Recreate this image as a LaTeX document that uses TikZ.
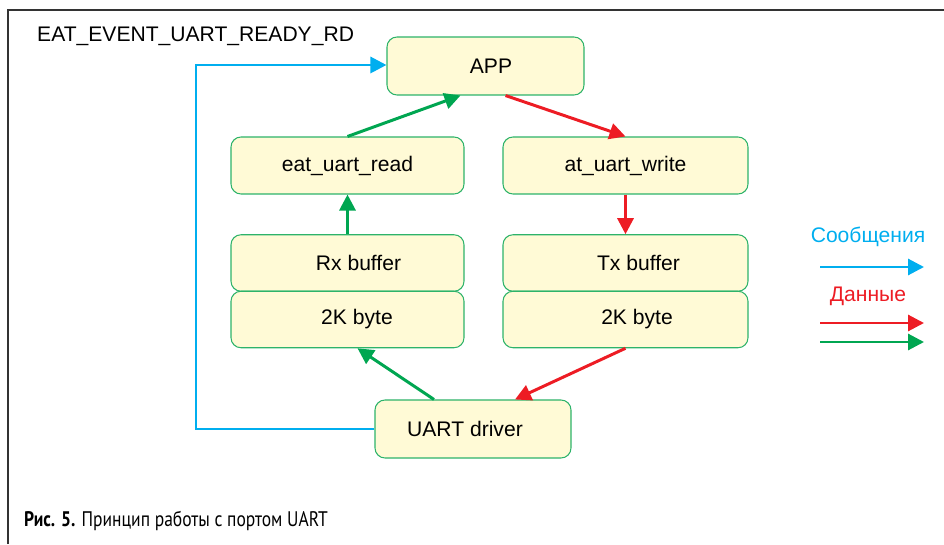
\documentclass[tikz,border=0pt]{standalone}
\usepackage{fontspec}
\setmainfont{Liberation Sans}
\newfontfamily\capfont{PT Sans}
\usetikzlibrary{arrows.meta}
\definecolor{msg}{HTML}{00AEEF}
\definecolor{wr}{HTML}{ED1C24}
\definecolor{rd}{HTML}{00A651}
\definecolor{boxfill}{HTML}{FFFAD6}
\definecolor{boxline}{HTML}{2DB36A}

\begin{document}
\begin{tikzpicture}[
  box/.style={draw=boxline, fill=boxfill, rounded corners=0.2cm, line width=0.6pt,
    minimum height=1.14cm, font=\fontsize{12}{14}\selectfont},
  link/.style={line width=1.7pt, -{Triangle[length=0.32cm,width=0.32cm]}},
  txt/.style={font=\fontsize{12}{14}\selectfont}
]
\useasboundingbox (0,0) rectangle (18.88,10.88);
\draw[line width=0.85pt, black!80] (0.16,0) -- (0.16,10.68) -- (18.88,10.68);

\node[txt, anchor=west] (event) at (0.62,10.16) {EAT\_EVENT\_UART\_READY\_RD};

\node[box, minimum width=3.94cm, minimum height=1.16cm] (app) at (9.71,9.56) {\hspace*{0.22cm}APP};
\node[box, minimum width=4.66cm] (read) at (6.95,7.57) {eat\_uart\_read};
\node[box, minimum width=4.9cm] (write) at (12.51,7.57) {at\_uart\_write};
\node[box, minimum width=4.66cm, minimum height=1.13cm] (rxbuf) at (6.95,5.62) {\hspace*{0.44cm}Rx buffer};
\node[box, minimum width=4.66cm, minimum height=1.13cm] (rxmem) at (6.95,4.49) {\hspace*{0.38cm}2K byte};
\node[box, minimum width=4.9cm, minimum height=1.13cm] (txbuf) at (12.51,5.62) {\hspace*{0.52cm}Tx buffer};
\node[box, minimum width=4.9cm, minimum height=1.13cm] (txmem) at (12.51,4.49) {\hspace*{0.46cm}2K byte};
\node[box, minimum width=3.92cm, minimum height=1.16cm] (driver) at (9.46,2.3) {UART driver\hspace*{0.32cm}};

% receive path
\draw[link, rd] (driver.north) ++(-0.78,0) -- ([xshift=0.2cm]rxmem.south);
\draw[link, rd] (rxbuf.north) -- (read.south);
\draw[link, rd] (read.north) -- ([xshift=-0.5cm]app.south);

% transmit path
\draw[link, wr] ([xshift=0.4cm]app.south) -- (write.north);
\draw[link, wr] (write.south) -- (txbuf.north);
\draw[link, wr] (txmem.south) -- ([xshift=0.84cm]driver.north);

% event back to the application
\coordinate (bend) at (3.92,9.58);
\draw[link, msg] (driver.west) -| (bend) -- (bend -| app.west);

% legend
\node[txt, text=msg] (lmsg) at (17.36,6.14) {Сообщения};
\node[txt, text=wr] (ldat) at (17.36,4.96) {Данные};
\coordinate (m0) at (16.4,5.54);
\coordinate (m1) at (18.48,5.54);
\coordinate (w0) at (16.4,4.42);
\coordinate (w1) at (18.48,4.42);
\coordinate (r0) at (16.4,4.04);
\coordinate (r1) at (18.48,4.04);
\draw[link, msg] (m0) -- (m1);
\draw[link, wr] (w0) -- (w1);
\draw[link, rd] (r0) -- (r1);

\node[anchor=base west, font=\capfont\fontsize{12}{14}\selectfont] (caption) at (0.36,0.36)
  {\scalebox{0.83}[1]{\textbf{Рис. 5.} Принцип работы с портом UART}};
\end{tikzpicture}
\end{document}
